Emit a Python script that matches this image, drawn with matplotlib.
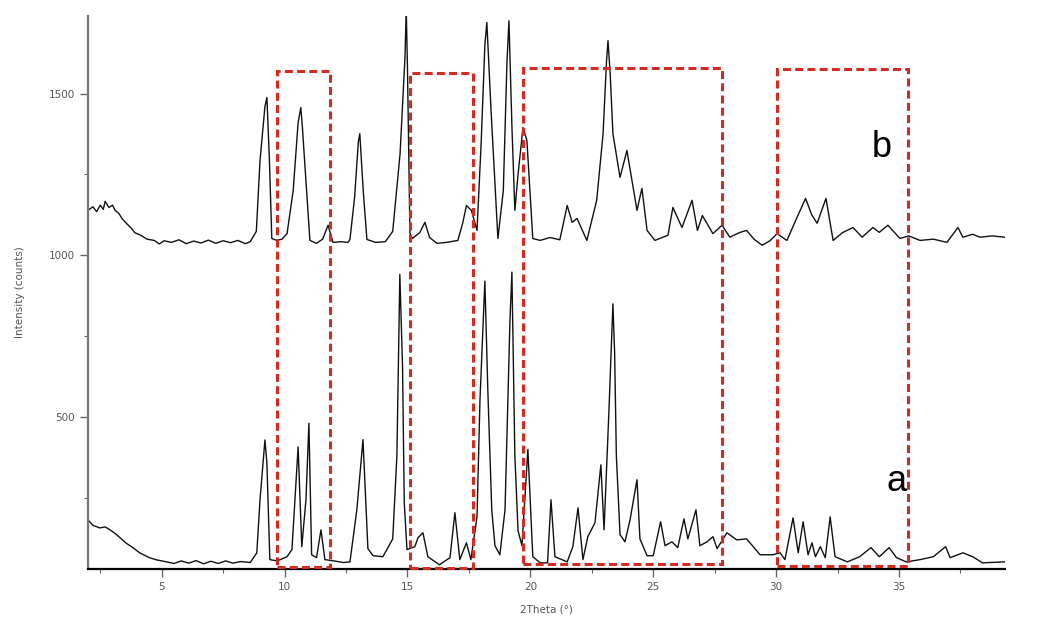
import matplotlib.pyplot as plt
from matplotlib.patches import Rectangle
from matplotlib.ticker import MultipleLocator

# trace b (upper pattern)
b_theta = [2.0, 2.2, 2.35, 2.5, 2.62, 2.7, 2.85, 3.0, 3.1, 3.25, 3.4, 3.6, 3.75, 3.9, 4.15,
           4.4, 4.7, 4.9, 5.1, 5.4, 5.7, 6.0, 6.3, 6.6, 6.9, 7.2, 7.5, 7.8, 8.1, 8.4, 8.6,
           8.85, 9.0, 9.2, 9.28, 9.38, 9.48, 9.68, 9.9, 10.1, 10.35, 10.55, 10.66, 10.72, 10.85,
           11.03, 11.3, 11.55, 11.77, 11.97, 12.3, 12.58, 12.66, 12.85, 13.0, 13.06, 13.2, 13.35,
           13.7, 14.1, 14.4, 14.7, 14.9, 14.95, 15.0, 15.1, 15.2, 15.5, 15.71, 15.9, 16.2,
           16.6, 17.05, 17.25, 17.4, 17.6, 17.83, 18.0, 18.15, 18.23, 18.4, 18.68, 18.9, 19.05,
           19.13, 19.25, 19.37, 19.5, 19.7, 19.86, 20.1, 20.4, 20.8, 21.2, 21.5, 21.7, 21.9, 22.3,
           22.7, 22.96, 23.1, 23.16, 23.25, 23.36, 23.65, 23.93, 24.34, 24.54, 24.75, 25.07, 25.6,
           25.8, 26.17, 26.58, 26.8, 27.0, 27.43, 27.8, 28.12, 28.5, 28.8, 29.1, 29.43, 29.75,
           30.04, 30.44, 30.85, 31.2, 31.45, 31.67, 32.03, 32.32, 32.7, 33.13, 33.5, 33.94,
           34.2, 34.55, 35.04, 35.4, 35.86, 36.4, 36.95, 37.4, 37.6, 38.0, 38.3, 38.8, 39.3]
b_counts = [1139, 1150, 1135, 1155, 1142, 1167, 1148, 1155, 1139, 1130, 1112, 1096, 1085, 1070, 1062,
            1050, 1046, 1035, 1045, 1040, 1048, 1036, 1044, 1038, 1047, 1037, 1045, 1039, 1046, 1036, 1042,
            1074, 1293, 1460, 1488, 1300, 1052, 1046, 1050, 1067, 1200, 1410, 1457, 1401, 1250,
            1046, 1037, 1050, 1093, 1040, 1042, 1040, 1049, 1180, 1350, 1376, 1200, 1049,
            1040, 1042, 1074, 1315, 1614, 1760, 1580, 1068, 1052, 1070, 1102, 1055, 1037,
            1040, 1046, 1100, 1154, 1139, 1077, 1350, 1650, 1720, 1450, 1052, 1200, 1600,
            1725, 1400, 1139, 1250, 1395, 1355, 1052, 1046, 1055, 1048, 1154, 1102, 1114, 1046,
            1170, 1376, 1600, 1664, 1560, 1376, 1241, 1324, 1139, 1207, 1077, 1046, 1062,
            1148, 1086, 1170, 1077, 1123, 1067, 1093, 1056, 1070, 1077, 1050, 1031, 1045,
            1067, 1046, 1117, 1176, 1125, 1099, 1176, 1046, 1070, 1086, 1056, 1086,
            1071, 1093, 1052, 1060, 1046, 1050, 1040, 1086, 1056, 1065, 1056, 1060, 1056]

# trace a (lower pattern)
a_theta = [2.0, 2.2, 2.48, 2.7, 2.9, 3.1, 3.3, 3.55, 3.83, 4.1, 4.5, 4.8, 5.2, 5.5, 5.8, 6.1,
           6.4, 6.7, 7.0, 7.3, 7.6, 7.9, 8.2, 8.6, 8.87, 9.0, 9.2, 9.28, 9.4, 9.7, 10.1, 10.3,
           10.55, 10.7, 10.87, 10.99, 11.1, 11.3, 11.48, 11.64, 12.0, 12.4, 12.66, 12.94,
           13.19, 13.39, 13.6, 14.0, 14.4, 14.57, 14.69, 14.8, 14.87, 14.98, 15.3, 15.43,
           15.63, 15.83, 16.3, 16.73, 16.93, 17.13, 17.4, 17.58, 17.83, 17.95, 18.15, 18.27,
           18.43, 18.56, 18.76, 18.97, 19.17, 19.25, 19.37, 19.5, 19.66, 19.9, 20.1, 20.4,
           20.7, 20.84, 21.0, 21.5, 21.73, 21.94, 22.14, 22.34, 22.63, 22.87, 23.0, 23.2,
           23.36, 23.43, 23.5, 23.65, 23.85, 24.05, 24.34, 24.46, 24.75, 25.0, 25.3, 25.48,
           25.76, 26.0, 26.25, 26.41, 26.74, 26.9, 27.19, 27.43, 27.6, 28.0, 28.4, 28.8,
           29.35, 29.87, 30.16, 30.36, 30.69, 30.9, 31.1, 31.3, 31.46, 31.6, 31.8, 32.0,
           32.2, 32.4, 32.9, 33.4, 33.86, 34.2, 34.6, 34.9, 35.3, 35.86, 36.4, 36.9, 37.08,
           37.6, 38.0, 38.4, 39.3]
a_counts = [182, 165, 157, 160, 151, 140, 127, 110, 96, 80, 65, 58, 52, 47, 55, 48,
            56, 46, 54, 47, 55, 48, 53, 50, 80, 244, 429, 358, 59, 55, 68, 90,
            407, 99, 244, 481, 74, 65, 151, 59, 55, 50, 52, 213,
            430, 93, 71, 68, 123, 380, 941, 654, 235, 90, 99, 127,
            142, 68, 43, 65, 204, 59, 111, 59, 191, 552, 920, 583,
            213, 102, 74, 213, 796, 948, 380, 148, 102, 400, 68, 49,
            49, 244, 68, 52, 99, 219, 59, 130, 173, 352, 151, 522,
            850, 698, 380, 136, 114, 179, 306, 123, 71, 71, 176, 102,
            114, 96, 185, 123, 213, 102, 114, 130, 93, 142, 120, 123,
            74, 74, 80, 59, 188, 80, 176, 74, 111, 68, 99, 65,
            191, 68, 52, 68, 96, 68, 96, 65, 52, 59, 68, 99, 65,
            80, 68, 49, 52]

# highlighted regions: (start, end, bottom, top)
box_x0 = [9.69, 15.1, 19.7, 30.04]
box_x1 = [11.84, 17.66, 27.8, 35.37]
box_y0 = [35, 32, 46, 40]
box_y1 = [1571, 1565, 1580, 1577]

grey = '#555555'

fig = plt.figure(figsize=(10.4, 6.32), dpi=100)
ax = fig.add_axes([0.0846, 0.0997, 0.8814, 0.875])

ax.plot(b_theta, b_counts, color='#111111', lw=1.0)
ax.plot(a_theta, a_counts, color='#111111', lw=1.0)

for x0, x1, y0, y1 in zip(box_x0, box_x1, box_y0, box_y1):
    ax.add_patch(Rectangle((x0, y0), x1 - x0, y1 - y0, fill=False,
                           edgecolor='#d42a22', lw=2.2,
                           linestyle=(0, (2.6, 1.4)), clip_on=False, zorder=3))

ax.text(34.3, 1333, 'b', fontsize=26, family='Liberation Sans', ha='center', va='center')
ax.text(34.9, 300, 'a', fontsize=26, family='Liberation Sans', ha='center', va='center')

ax.set_xlim(2.0, 39.3)
ax.set_ylim(30, 1740)

ax.spines['top'].set_visible(False)
ax.spines['right'].set_visible(False)
ax.spines['left'].set_color('#777777')
ax.spines['left'].set_linewidth(1.6)
ax.spines['bottom'].set_linewidth(1.6)

ax.xaxis.set_major_locator(MultipleLocator(5))
ax.xaxis.set_minor_locator(MultipleLocator(2.5))
ax.yaxis.set_major_locator(MultipleLocator(500))
ax.yaxis.set_minor_locator(MultipleLocator(250))
ax.set_yticks([500, 1000, 1500])
ax.tick_params(which='major', length=6, width=1.0, color='#666666',
               labelsize=7.5, labelcolor=grey)
ax.tick_params(which='minor', length=3, width=0.8, color='#666666')

ax.set_xlabel('2Theta (°)', fontsize=7.5, color=grey, labelpad=9)
ax.set_ylabel('Intensity (counts)', fontsize=7.5, color=grey, labelpad=17)

fig.savefig('out.png', dpi=100)
